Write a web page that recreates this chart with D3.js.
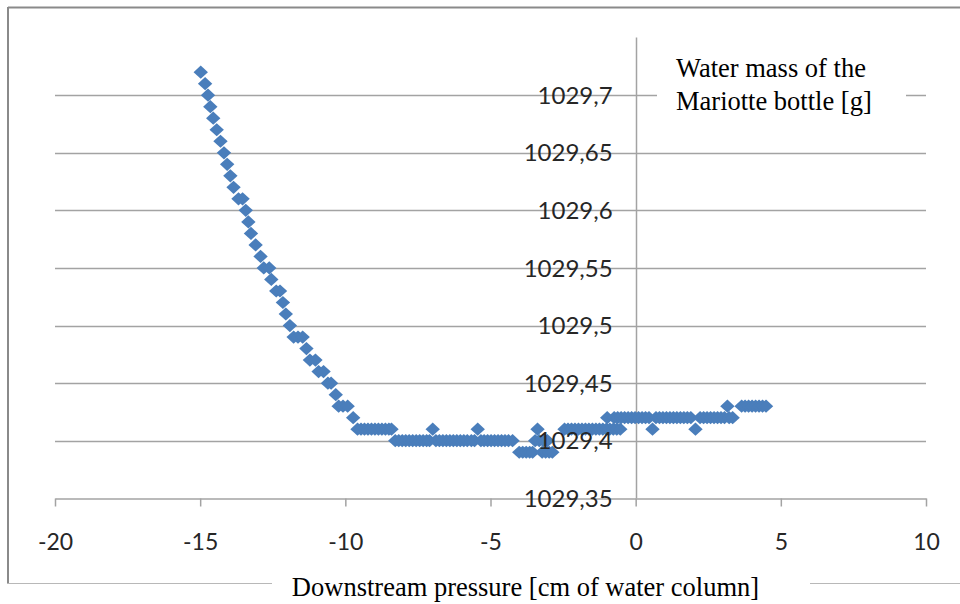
<!DOCTYPE html>
<html>
<head>
<meta charset="utf-8">
<script src="https://cdn.jsdelivr.net/npm/d3@7"></script>
<style>
html,body{margin:0;padding:0;background:#fff;}
svg{display:block;}
</style>
</head>
<body>
<svg id="chart" width="960" height="604"></svg>
<script>
// ---- data ----
const xTicks = [-20, -15, -10, -5, 0, 5, 10];
const xTickLabels = ["-20", "-15", "-10", "-5", "0", "5", "10"];
const yTicks = [1029.35, 1029.4, 1029.45, 1029.5, 1029.55, 1029.6, 1029.65, 1029.7];
const yTickLabels = ["1029,35", "1029,4", "1029,45", "1029,5", "1029,55", "1029,6", "1029,65", "1029,7"];
const xTitle = "Downstream pressure [cm of water column]";
const yTitle = ["Water mass of the", "Mariotte bottle [g]"];

// downstream pressure [cm] and water mass [g], point by point
const pressure = [
  // steep descent
  -14.98, -14.83, -14.73, -14.65, -14.55, -14.43, -14.30, -14.18, -14.07, -13.96, -13.85,
  -13.68, -13.54, -13.43, -13.34, -13.25, -13.09, -12.92, -12.81, -12.62, -12.55,
  -12.38, -12.25, -12.15, -12.05, -11.91, -11.78, -11.63, -11.47, -11.34,
  -11.22, -11.03, -10.92, -10.75, -10.60, -10.49, -10.33, -10.23, -10.08, -9.92, -9.73,
  // 1029.41 plateau
  -9.58, -9.46, -9.34, -9.22, -9.10, -8.98, -8.86, -8.74, -8.62, -8.50, -8.41,
  // 1029.40 plateau
  -8.28, -8.16, -8.04, -7.92, -7.80, -7.68, -7.56, -7.44, -7.32, -7.20, -7.10,
  -6.88, -6.76, -6.64, -6.52, -6.40, -6.28, -6.16, -6.04, -5.92, -5.80, -5.66,
  -5.22, -5.10, -4.98, -4.86, -4.74, -4.62, -4.50, -4.38, -4.24,
  -5.55, -5.33,
  // isolated 1029.41
  -6.99, -5.44, -3.38,
  // 1029.39
  -4.01, -3.89, -3.77, -3.65, -3.55, -3.22, -3.10, -2.98, -2.87,
  // 1029.40 near label
  -3.46, -3.32, -3.18, -3.04,
  // 1029.41 band
  -2.45, -2.33, -2.21, -2.09, -1.97, -1.85, -1.73, -1.61, -1.49, -1.37, -1.25, -1.13,
  -1.01, -0.89, -0.77, -0.65, -0.53,
  // isolated 1029.41
  0.58, 2.06,
  // 1029.42 band
  -0.98, -0.74, -0.62, -0.50, -0.38, -0.26, -0.14, -0.02, 0.10, 0.22, 0.34, 0.46,
  0.70, 0.82, 0.94, 1.06, 1.18, 1.30, 1.42, 1.54, 1.66, 1.78, 1.90,
  2.22, 2.34, 2.46, 2.58, 2.70, 2.82, 2.94, 3.06, 3.22, 3.34,
  // 1029.43
  3.16, 3.65, 3.77, 3.89, 4.01, 4.13, 4.25, 4.37, 4.49
];
const waterMass = [
  1029.72, 1029.71, 1029.70, 1029.69, 1029.68, 1029.67, 1029.66, 1029.65, 1029.64, 1029.63, 1029.62,
  1029.61, 1029.61, 1029.60, 1029.59, 1029.58, 1029.57, 1029.56, 1029.55, 1029.55, 1029.54,
  1029.53, 1029.53, 1029.52, 1029.51, 1029.50, 1029.49, 1029.49, 1029.49, 1029.48,
  1029.47, 1029.47, 1029.46, 1029.46, 1029.45, 1029.45, 1029.44, 1029.43, 1029.43, 1029.43, 1029.42,
  1029.41, 1029.41, 1029.41, 1029.41, 1029.41, 1029.41, 1029.41, 1029.41, 1029.41, 1029.41, 1029.41,
  1029.40, 1029.40, 1029.40, 1029.40, 1029.40, 1029.40, 1029.40, 1029.40, 1029.40, 1029.40, 1029.40,
  1029.40, 1029.40, 1029.40, 1029.40, 1029.40, 1029.40, 1029.40, 1029.40, 1029.40, 1029.40, 1029.40,
  1029.40, 1029.40, 1029.40, 1029.40, 1029.40, 1029.40, 1029.40, 1029.40, 1029.40,
  1029.40, 1029.40,
  1029.41, 1029.41, 1029.41,
  1029.39, 1029.39, 1029.39, 1029.39, 1029.39, 1029.39, 1029.39, 1029.39, 1029.39,
  1029.40, 1029.40, 1029.40, 1029.40,
  1029.41, 1029.41, 1029.41, 1029.41, 1029.41, 1029.41, 1029.41, 1029.41, 1029.41, 1029.41, 1029.41, 1029.41,
  1029.41, 1029.41, 1029.41, 1029.41, 1029.41,
  1029.41, 1029.41,
  1029.42, 1029.42, 1029.42, 1029.42, 1029.42, 1029.42, 1029.42, 1029.42, 1029.42, 1029.42, 1029.42, 1029.42,
  1029.42, 1029.42, 1029.42, 1029.42, 1029.42, 1029.42, 1029.42, 1029.42, 1029.42, 1029.42, 1029.42,
  1029.42, 1029.42, 1029.42, 1029.42, 1029.42, 1029.42, 1029.42, 1029.42, 1029.42, 1029.42,
  1029.43, 1029.43, 1029.43, 1029.43, 1029.43, 1029.43, 1029.43, 1029.43, 1029.43
];

// ---- drawing ----
const svg = d3.select("#chart");
const x = d3.scaleLinear().domain([-20, 10]).range([55, 926]);
const y = d3.scaleLinear().domain([1029.35, 1029.75]).range([498.3, 37.6]);

const gridColor = "#a3a3a3";
const textColor = "#262626";
const markerColor = "#4a7ebb";
const labelFont = "Lato, 'Liberation Sans', Arial, sans-serif";
const titleFont = "'Liberation Serif', 'Times New Roman', serif";

// outer chart border
svg.append("line").attr("x1", 8).attr("x2", 960).attr("y1", 7.5).attr("y2", 7.5)
  .attr("stroke", "#8a8a8a").attr("stroke-width", 2);
svg.append("line").attr("x1", 8).attr("x2", 8).attr("y1", 7).attr("y2", 584)
  .attr("stroke", "#8a8a8a").attr("stroke-width", 2);
svg.append("line").attr("x1", 7).attr("x2", 960).attr("y1", 583.5).attr("y2", 583.5)
  .attr("stroke", "#b8b8b8").attr("stroke-width", 1);

// horizontal gridlines
svg.append("g").selectAll("line")
  .data(yTicks.filter(v => v > 1029.36))
  .join("line")
  .attr("x1", x(-20)).attr("x2", x(10))
  .attr("y1", d => Math.round(y(d)) + 0.5).attr("y2", d => Math.round(y(d)) + 0.5)
  .attr("stroke", gridColor).attr("stroke-width", 1.5);

// x axis (at y = 1029.35)
const xAxis = d3.axisBottom(x).tickValues(xTicks).tickSize(8).tickSizeOuter(0)
  .tickFormat((d, i) => xTickLabels[i]).tickPadding(27);
const gx = svg.append("g").attr("transform", `translate(0,${Math.round(y(1029.35)) + 0.5})`).call(xAxis);
gx.select(".domain").attr("stroke", gridColor).attr("stroke-width", 1.5);
gx.selectAll(".tick line").attr("stroke", gridColor).attr("stroke-width", 1.5);
gx.selectAll(".tick text").attr("fill", textColor)
  .style("font-family", labelFont).style("font-size", "23px");

// y axis line at x = 0
svg.append("line")
  .attr("x1", Math.round(x(0)) + 0.5).attr("x2", Math.round(x(0)) + 0.5)
  .attr("y1", y(1029.75)).attr("y2", y(1029.35))
  .attr("stroke", gridColor).attr("stroke-width", 1.5);

// markers
const pts = pressure.map((p, i) => ({p, m: waterMass[i]}));
const diamond = "M0,-6.6L7.2,0L0,6.6L-7.2,0Z";
svg.append("g").selectAll("path")
  .data(pts)
  .join("path")
  .attr("d", diamond)
  .attr("transform", d => `translate(${x(d.p)},${y(d.m)})`)
  .attr("fill", markerColor);

// y tick labels (drawn over markers, left of the y axis)
svg.append("g").selectAll("text")
  .data(yTicks)
  .join("text")
  .attr("x", x(0) - 23)
  .attr("y", d => y(d))
  .attr("dy", "0.36em")
  .attr("text-anchor", "end")
  .attr("fill", textColor)
  .style("font-family", labelFont)
  .style("font-size", "24px")
  .text((d, i) => yTickLabels[i]);

// y title box
svg.append("rect").attr("x", 657).attr("y", 50).attr("width", 249).attr("height", 78).attr("fill", "#fff");
const yt = svg.append("text")
  .attr("fill", "#000")
  .style("font-family", titleFont)
  .style("font-size", "26.5px");
yt.selectAll("tspan").data(yTitle).join("tspan")
  .attr("x", 676).attr("y", (d, i) => 77 + i * 32.5)
  .text(d => d);

// x title with white background
svg.append("rect").attr("x", 272).attr("y", 570).attr("width", 538).attr("height", 34).attr("fill", "#fff");
svg.append("text")
  .attr("x", 525.5).attr("y", 596)
  .attr("text-anchor", "middle")
  .attr("fill", "#000")
  .style("font-family", titleFont)
  .style("font-size", "26.5px")
  .text(xTitle);
</script>
</body>
</html>
